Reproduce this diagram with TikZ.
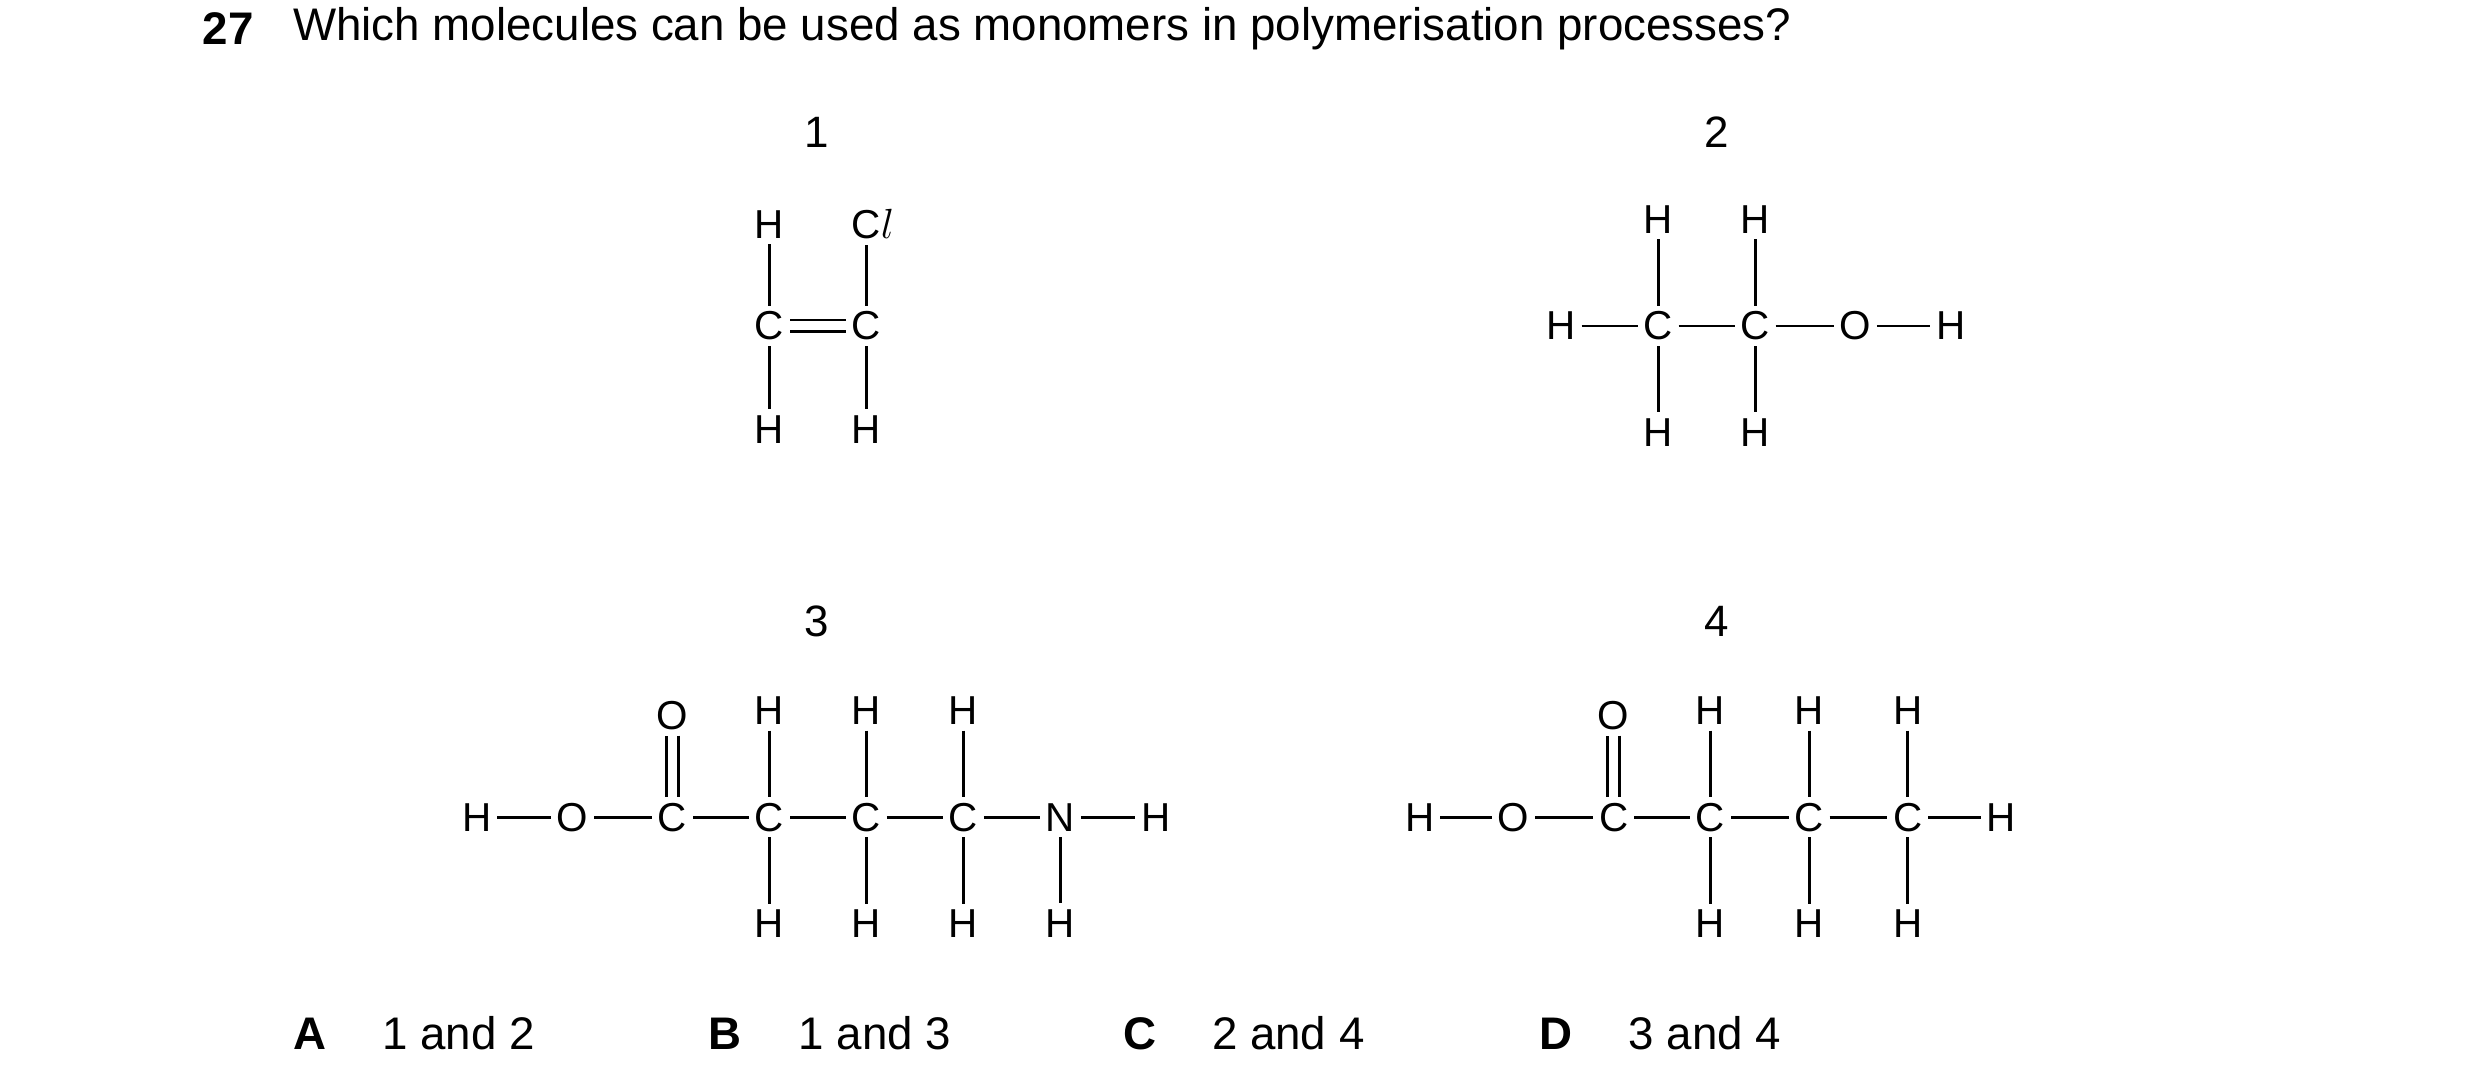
\documentclass[tikz,border=0pt]{standalone}
\usepackage{fontspec}
\setmainfont{Liberation Sans}
\usetikzlibrary{positioning}
\tikzset{
    atom/.style = {inner sep=1.5pt, font=\fontsize{11.5}{13}\selectfont},
    bond/.style = {line width=0.8pt},
    dbond/.style = {line width=0.8pt, double, double distance=2.6pt},
    num/.style = {font=\fontsize{12.5}{14}\selectfont},
    qtext/.style = {anchor=west, inner sep=0pt, font=\fontsize{13}{15}\selectfont}
}

\begin{document}
\begin{tikzpicture}[x=0.0159cm, y=-0.0159cm]
    \useasboundingbox (3,2) rectangle (1563,685);

    % question
    \node[qtext] (q-num) at (130,20) {\textbf{27}};
    \node[qtext] (q-txt) at (187,20) {Which molecules can be used as monomers in polymerisation processes?};

    % numbers
    \node[num] (lab-1) at (517,85) {1};
    \node[num] (lab-2) at (1083,85) {2};
    \node[num] (lab-3) at (517,393) {3};
    \node[num] (lab-4) at (1083,393) {4};

    % molecule 1
    \node[atom] (m1-c1) at (487,207) {C};
    \node[atom] (m1-c2) at (548,207) {C};
    \node[atom] (m1-t1) at (487,143) {H};
    \node[atom] (m1-t2) at (552,143) {C$l$};
    \node[atom] (m1-b1) at (487,272) {H};
    \node[atom] (m1-b2) at (548,272) {H};
    \draw[dbond] (m1-c1) -- (m1-c2);
    \draw[bond] (m1-t1) -- (m1-c1);
    \draw[bond] (m1-c1) -- (m1-b1);
    \draw[bond] (m1-c2) -- (m1-b2);
    \draw[bond] (m1-c2) -- (m1-c2 |- m1-t2.south);

    % molecule 2
    \foreach \n/\x/\t in {0/985/H, 1/1046/C, 2/1107/C, 3/1170/O, 4/1230/H}
        \node[atom] (m2-\n) at (\x,207) {\t};
    \foreach \a/\b in {0/1, 1/2, 2/3, 3/4}
        \draw[bond] (m2-\a) -- (m2-\b);
    \foreach \n in {1,2} {
        \node[atom] (m2-t\n) [above=2.45em of m2-\n, anchor=center] {H};
        \node[atom] (m2-b\n) [below=2.45em of m2-\n, anchor=center] {H};
        \draw[bond] (m2-t\n) -- (m2-\n);
        \draw[bond] (m2-\n) -- (m2-b\n);
    }

    % molecule 3
    \foreach \n/\x/\t in {0/303/H, 1/363/O, 2/426/C, 3/487/C, 4/548/C, 5/609/C, 6/670/N, 7/730/H}
        \node[atom] (m3-\n) at (\x,516) {\t};
    \foreach \a/\b in {0/1, 1/2, 2/3, 3/4, 4/5, 5/6, 6/7}
        \draw[bond] (m3-\a) -- (m3-\b);
    \node[atom] (m3-o) at (426,452) {O};
    \draw[dbond] (m3-o) -- (m3-2);
    \foreach \n in {3,4,5} {
        \node[atom] (m3-t\n) [above=2.45em of m3-\n, anchor=center] {H};
        \draw[bond] (m3-t\n) -- (m3-\n);
    }
    \foreach \n in {3,4,5,6} {
        \node[atom] (m3-b\n) [below=2.45em of m3-\n, anchor=center] {H};
        \draw[bond] (m3-\n) -- (m3-b\n);
    }

    % molecule 4
    \foreach \n/\x/\t in {0/896/H, 1/955/O, 2/1018/C, 3/1079/C, 4/1141/C, 5/1203/C, 6/1262/H}
        \node[atom] (m4-\n) at (\x,516) {\t};
    \foreach \a/\b in {0/1, 1/2, 2/3, 3/4, 4/5, 5/6}
        \draw[bond] (m4-\a) -- (m4-\b);
    \node[atom] (m4-o) at (1018,452) {O};
    \draw[dbond] (m4-o) -- (m4-2);
    \foreach \n in {3,4,5} {
        \node[atom] (m4-t\n) [above=2.45em of m4-\n, anchor=center] {H};
        \node[atom] (m4-b\n) [below=2.45em of m4-\n, anchor=center] {H};
        \draw[bond] (m4-t\n) -- (m4-\n);
        \draw[bond] (m4-\n) -- (m4-b\n);
    }

    % answers
    \foreach \l/\xl/\xt/\t in {A/187/243/1 and 2, B/448/505/1 and 3, C/709/765/2 and 4, D/971/1027/3 and 4} {
        \node[qtext] (ans-\l) at (\xl,652) {\textbf{\l}};
        \node[qtext] (opt-\l) at (\xt,652) {\t};
    }
\end{tikzpicture}
\end{document}
